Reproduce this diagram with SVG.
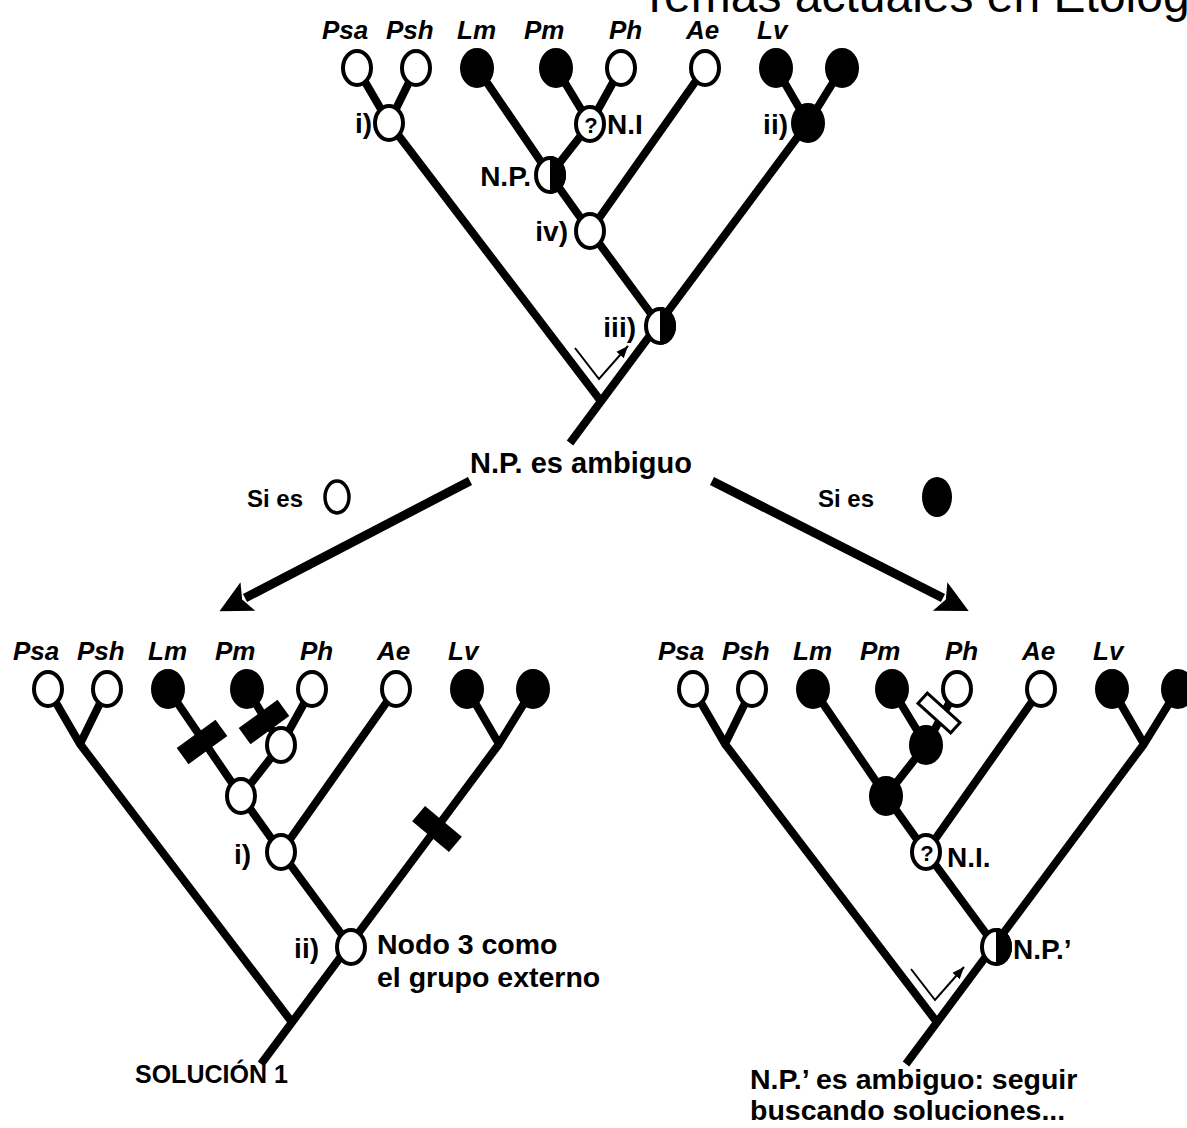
<svg xmlns="http://www.w3.org/2000/svg" width="1187" height="1128" viewBox="0 0 1187 1128">
<style>
.br{fill:none;stroke:#000;stroke-width:8;stroke-linejoin:round}
.o{fill:#fff;stroke:#000;stroke-width:4}
.f{fill:#000;stroke:#000;stroke-width:2}
.bar{fill:#000}
.obar{fill:#fff;stroke:#000;stroke-width:3}
.sp{font-family:"Liberation Sans",Arial,sans-serif;font-weight:bold;font-style:italic;font-size:26px}
.lb{font-family:"Liberation Sans",Arial,sans-serif;font-weight:bold;font-size:28px}
.q{font-family:"Liberation Sans",Arial,sans-serif;font-weight:bold;font-size:22px}
.tx{font-family:"Liberation Sans",Arial,sans-serif;font-weight:bold;font-size:28.5px}
.small{fill:none;stroke:#000;stroke-width:2}
.big{fill:none;stroke:#000;stroke-width:9}
</style>
<defs>
<marker id="sa" viewBox="0 0 10 10" refX="10" refY="5" markerWidth="12" markerHeight="12" markerUnits="userSpaceOnUse" orient="auto"><path d="M0,1 L10,5 L0,9 z"/></marker>
<marker id="ba" viewBox="0 0 10 10" refX="1" refY="5" markerWidth="34" markerHeight="32" markerUnits="userSpaceOnUse" orient="auto"><path d="M0,0 L10,5 L0,10 L2,5 z"/></marker>
<path id="tree" class="br" d="M357,68 L389,123 L600,400 M416,68 L389,123 M477,68 L550,175 L590,231 L660,326 M556,68 L590,124 M621,68 L590,124 L550,175 M705,68 L590,231 M776,68 L808,123 M842,68 L808,123 L570,443"/>
</defs>

<text x="640" y="12" font-family="Liberation Sans, Arial, sans-serif" font-size="48" fill="#000">Temas actuales en Etología</text>

<!-- TOP TREE -->
<g id="top-tree">
  <g id="top-connectors">
    <use href="#tree"/>
    <polyline class="small" points="575,348 599,379 628,346" marker-end="url(#sa)"/>
  </g>
  <g id="top-labels">
    <text class="sp" x="322" y="39">Psa</text>
    <text class="sp" x="386" y="39">Psh</text>
    <text class="sp" x="457" y="39">Lm</text>
    <text class="sp" x="524" y="39">Pm</text>
    <text class="sp" x="609" y="39">Ph</text>
    <text class="sp" x="686" y="39">Ae</text>
    <text class="sp" x="757" y="39">Lv</text>
  </g>
  <g id="top-psa"><ellipse class="o" cx="357" cy="68" rx="14" ry="17"/></g>
  <g id="top-psh"><ellipse class="o" cx="416" cy="68" rx="14" ry="17"/></g>
  <g id="top-lm"><ellipse class="f" cx="477" cy="68" rx="16" ry="19"/></g>
  <g id="top-pm"><ellipse class="f" cx="556" cy="68" rx="16" ry="19"/></g>
  <g id="top-ph"><ellipse class="o" cx="621" cy="68" rx="14" ry="17"/></g>
  <g id="top-ae"><ellipse class="o" cx="705" cy="68" rx="14" ry="17"/></g>
  <g id="top-lv"><ellipse class="f" cx="776" cy="68" rx="16" ry="19"/></g>
  <g id="top-lv2"><ellipse class="f" cx="842" cy="68" rx="16" ry="19"/></g>
  <g id="top-node-i"><ellipse class="o" cx="389" cy="123" rx="14" ry="17"/><text class="lb" x="372" y="133" text-anchor="end">i)</text></g>
  <g id="top-node-ni"><ellipse class="o" cx="590" cy="124" rx="14" ry="17"/><text class="q" x="591" y="133" text-anchor="middle">?</text><text class="lb" x="607" y="134">N.I</text></g>
  <g id="top-node-np"><ellipse class="o" cx="550" cy="175" rx="14" ry="17"/><path d="M550,156 A16,19 0 0 1 550,194 Z" fill="#000"/><text class="lb" x="531" y="186" text-anchor="end">N.P.</text></g>
  <g id="top-node-iv"><ellipse class="o" cx="590" cy="231" rx="14" ry="17"/><text class="lb" x="568" y="241" text-anchor="end">iv)</text></g>
  <g id="top-node-iii"><ellipse class="o" cx="660" cy="326" rx="14" ry="17"/><path d="M660,307 A16,19 0 0 1 660,345 Z" fill="#000"/><text class="lb" x="636" y="337" text-anchor="end">iii)</text></g>
  <g id="top-node-ii"><ellipse class="f" cx="808" cy="123" rx="16" ry="19"/><text class="lb" x="788" y="134" text-anchor="end">ii)</text></g>
</g>

<!-- MIDDLE -->
<g id="middle">
  <g id="mid-connectors">
    <line class="big" x1="470" y1="481" x2="245" y2="598" marker-end="url(#ba)"/>
    <line class="big" x1="712" y1="481" x2="943" y2="598" marker-end="url(#ba)"/>
  </g>
  <g id="mid-title"><text class="tx" x="470" y="473" style="font-size:29px">N.P. es ambiguo</text></g>
  <g id="mid-left"><text class="lb" x="247" y="507" style="font-size:24px">Si es</text><ellipse cx="337" cy="497" rx="12" ry="16" fill="#fff" stroke="#000" stroke-width="3.5"/></g>
  <g id="mid-right"><text class="lb" x="818" y="507" style="font-size:24px">Si es</text><ellipse cx="937" cy="497" rx="15" ry="20" fill="#000"/></g>
</g>

<!-- BOTTOM LEFT TREE -->
<g id="left-tree" transform="translate(-309,621)">
  <g id="left-connectors"><use href="#tree"/></g>
  <g id="left-labels">
    <text class="sp" x="322" y="39">Psa</text>
    <text class="sp" x="386" y="39">Psh</text>
    <text class="sp" x="457" y="39">Lm</text>
    <text class="sp" x="524" y="39">Pm</text>
    <text class="sp" x="609" y="39">Ph</text>
    <text class="sp" x="686" y="39">Ae</text>
    <text class="sp" x="757" y="39">Lv</text>
  </g>
  <g id="left-psa"><ellipse class="o" cx="357" cy="68" rx="14" ry="17"/></g>
  <g id="left-psh"><ellipse class="o" cx="416" cy="68" rx="14" ry="17"/></g>
  <g id="left-lm"><ellipse class="f" cx="477" cy="68" rx="16" ry="19"/></g>
  <g id="left-pm"><ellipse class="f" cx="556" cy="68" rx="16" ry="19"/></g>
  <g id="left-ph"><ellipse class="o" cx="621" cy="68" rx="14" ry="17"/></g>
  <g id="left-ae"><ellipse class="o" cx="705" cy="68" rx="14" ry="17"/></g>
  <g id="left-lv"><ellipse class="f" cx="776" cy="68" rx="16" ry="19"/></g>
  <g id="left-lv2"><ellipse class="f" cx="842" cy="68" rx="16" ry="19"/></g>
  <g id="left-bar-lm"><rect class="bar" x="-24" y="-10" width="48" height="20" transform="translate(511,121) rotate(-36)"/></g>
  <g id="left-bar-pm"><rect class="bar" x="-24" y="-10" width="48" height="20" transform="translate(573,101) rotate(-36)"/></g>
  <g id="left-node-ni"><ellipse class="o" cx="590" cy="124" rx="14" ry="17"/></g>
  <g id="left-node-np"><ellipse class="o" cx="550" cy="175" rx="14" ry="17"/></g>
  <g id="left-node-i"><ellipse class="o" cx="590" cy="231" rx="14" ry="17"/><text class="lb" x="560" y="243" text-anchor="end">i)</text></g>
  <g id="left-node-ii"><ellipse class="o" cx="660" cy="326" rx="14" ry="17"/><text class="lb" x="628" y="337" text-anchor="end">ii)</text></g>
  <g id="left-bar-lv"><rect class="bar" x="-24" y="-10" width="48" height="20" transform="translate(746,208) rotate(40)"/></g>
  <g id="left-note"><text class="tx" x="686" y="333">Nodo 3 como</text><text class="tx" x="686" y="366">el grupo externo</text></g>
</g>
<g id="solucion1"><text class="tx" x="135" y="1083" style="font-size:25px">SOLUCIÓN 1</text></g>

<!-- BOTTOM RIGHT TREE -->
<g id="right-tree" transform="translate(336,621)">
  <g id="right-connectors">
    <use href="#tree"/>
    <polyline class="small" points="575,348 599,379 628,346" marker-end="url(#sa)"/>
  </g>
  <g id="right-labels">
    <text class="sp" x="322" y="39">Psa</text>
    <text class="sp" x="386" y="39">Psh</text>
    <text class="sp" x="457" y="39">Lm</text>
    <text class="sp" x="524" y="39">Pm</text>
    <text class="sp" x="609" y="39">Ph</text>
    <text class="sp" x="686" y="39">Ae</text>
    <text class="sp" x="757" y="39">Lv</text>
  </g>
  <g id="right-psa"><ellipse class="o" cx="357" cy="68" rx="14" ry="17"/></g>
  <g id="right-psh"><ellipse class="o" cx="416" cy="68" rx="14" ry="17"/></g>
  <g id="right-lm"><ellipse class="f" cx="477" cy="68" rx="16" ry="19"/></g>
  <g id="right-pm"><ellipse class="f" cx="556" cy="68" rx="16" ry="19"/></g>
  <g id="right-ph"><ellipse class="o" cx="621" cy="68" rx="14" ry="17"/></g>
  <g id="right-ae"><ellipse class="o" cx="705" cy="68" rx="14" ry="17"/></g>
  <g id="right-lv"><ellipse class="f" cx="776" cy="68" rx="16" ry="19"/></g>
  <g id="right-lv2"><ellipse class="f" cx="842" cy="68" rx="16" ry="19"/></g>
  <g id="right-node-b"><ellipse class="f" cx="590" cy="124" rx="16" ry="19"/></g>
  <g id="right-bar-ph"><rect class="obar" x="-22" y="-7" width="44" height="14" transform="translate(603,92) rotate(42)"/></g>
  <g id="right-node-np"><ellipse class="f" cx="550" cy="175" rx="16" ry="19"/></g>
  <g id="right-node-ni"><ellipse class="o" cx="590" cy="231" rx="14" ry="17"/><text class="q" x="591" y="240" text-anchor="middle">?</text><text class="lb" x="611" y="246">N.I.</text></g>
  <g id="right-node-npp"><ellipse class="o" cx="660" cy="326" rx="14" ry="17"/><path d="M660,307 A16,19 0 0 1 660,345 Z" fill="#000"/><text class="lb" x="677" y="338">N.P.’</text></g>
</g>
<g id="right-note"><text class="tx" x="750" y="1089">N.P.’ es ambiguo: seguir</text><text class="tx" x="750" y="1120">buscando soluciones...</text></g>
</svg>
